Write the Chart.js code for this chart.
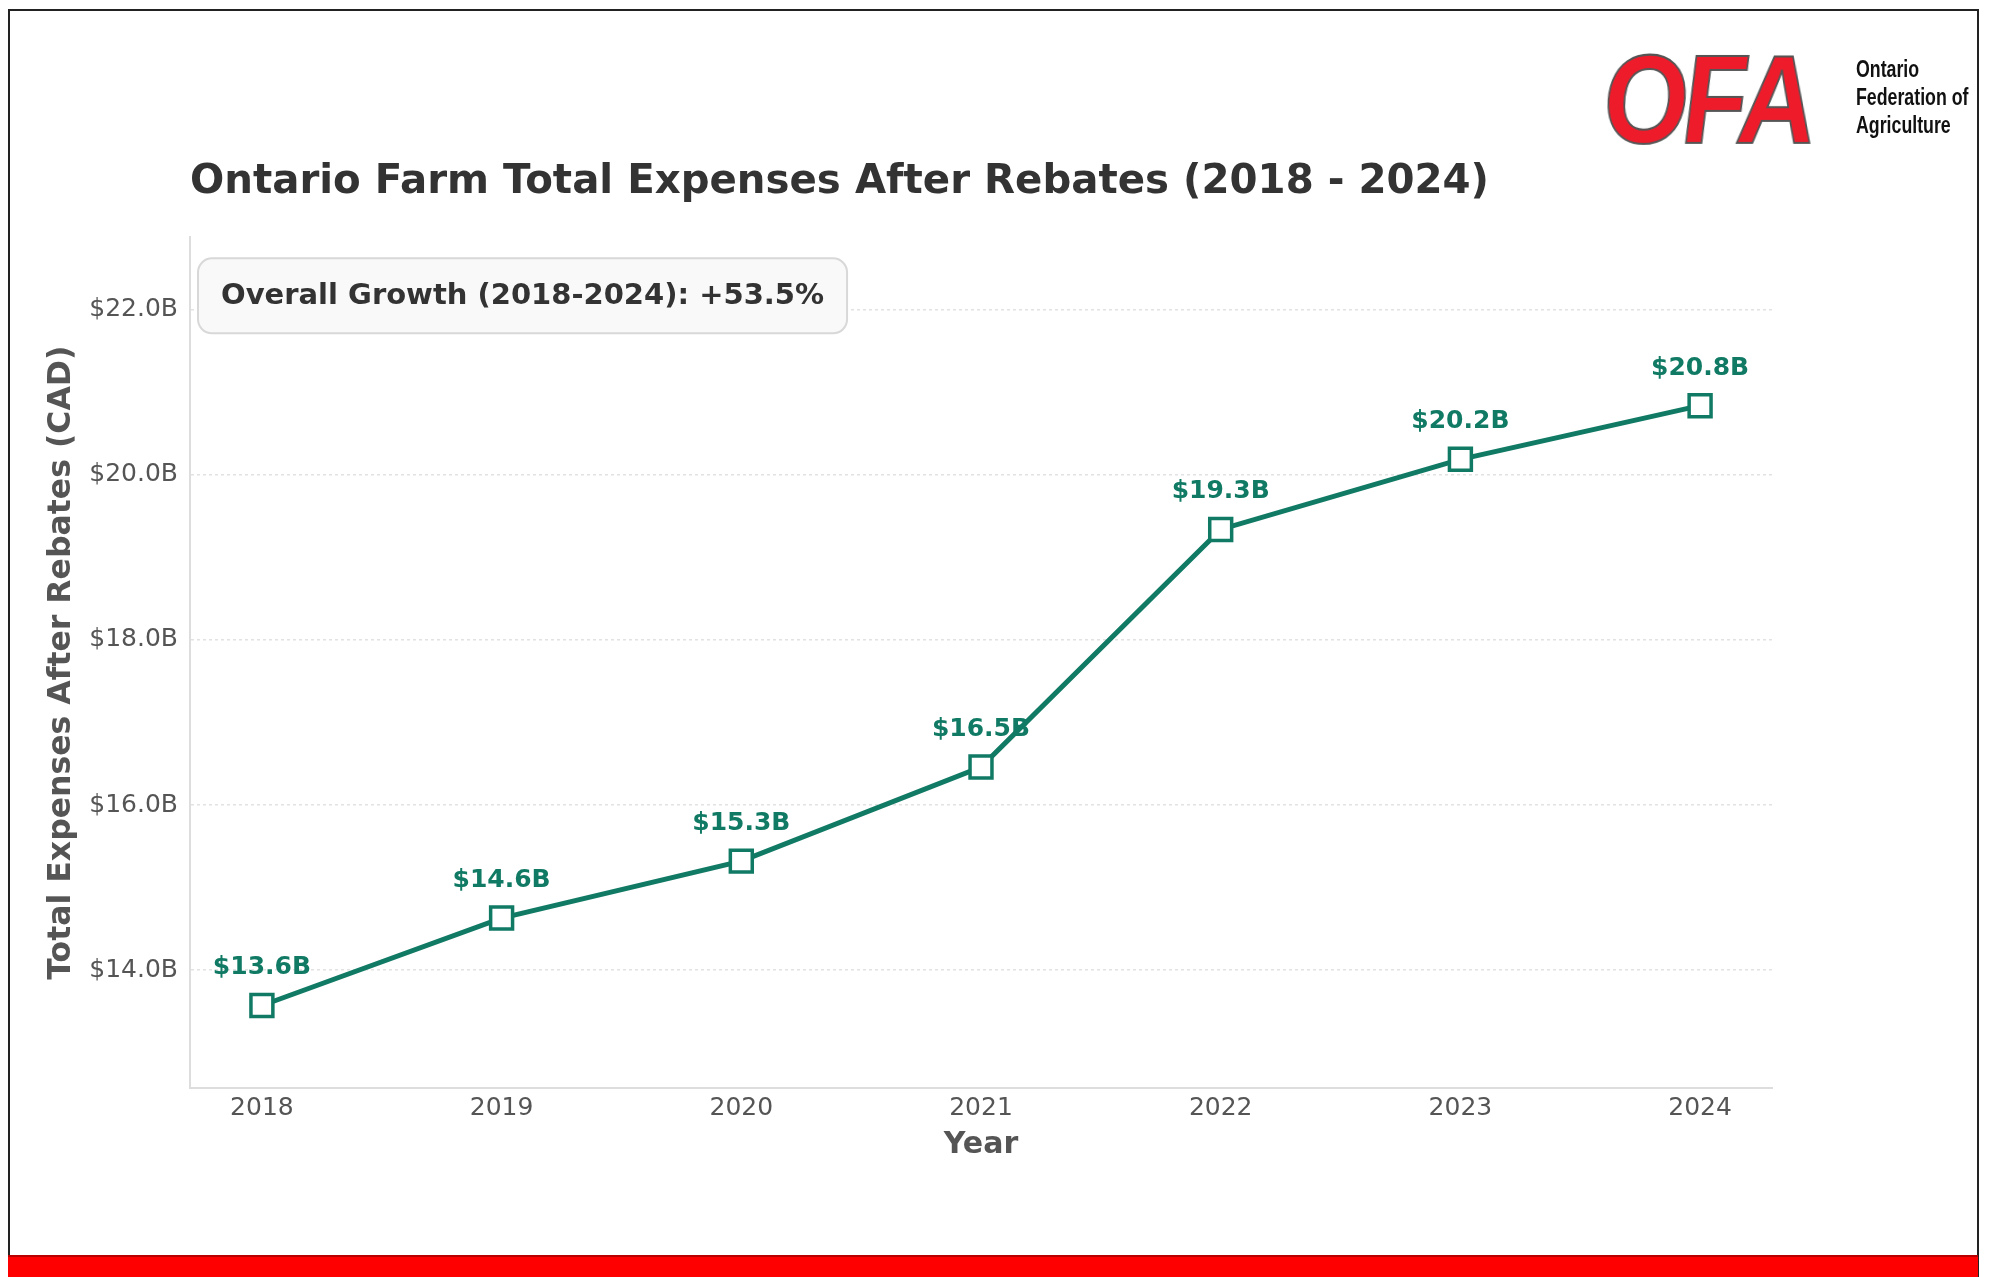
<!DOCTYPE html>
<html>
<head>
<meta charset="utf-8">
<title>Ontario Farm Total Expenses After Rebates</title>
<script src="https://cdn.jsdelivr.net/npm/chart.js@4.4.0/dist/chart.umd.min.js"></script>
<style>
html, body { margin: 0; padding: 0; background: #fff; }
#page { position: relative; width: 1993px; height: 1277px; overflow: hidden; background: #fff; }
#frame { position: absolute; left: 8px; top: 9px; width: 1971px; height: 1290px; border: 2px solid #222; box-sizing: border-box; }
#redBar { position: absolute; left: 8px; top: 1255px; width: 1970px; height: 24px; background: #ff0000; border-top: 2px solid #b80000; box-sizing: border-box; }
#chartBox { position: absolute; left: 0; top: 0; width: 1993px; height: 1277px; }
#ofa { position: absolute; left: 1600px; top: 37px; font: italic 900 126px "Liberation Sans", Arial, sans-serif; color: #ee1c2b;
       -webkit-text-stroke: 2px #555; letter-spacing: -6px; transform: scaleX(0.86) skewX(3deg); transform-origin: left top; line-height: 1; }
#ofaText { position: absolute; left: 1856px; top: 55px; font: bold 24px "Liberation Sans Narrow", "Liberation Sans", sans-serif;
           line-height: 28px; color: #111; transform: scaleX(0.74); transform-origin: left top; white-space: nowrap; }
</style>
</head>
<body>
<div id="page">
  <div id="frame"></div>
  <div id="chartBox"><canvas id="myChart"></canvas></div>
  <div id="ofa">OFA</div>
  <div id="ofaText">Ontario<br>Federation of<br>Agriculture</div>
  <div id="redBar"></div>
</div>
<script>
// values, billions CAD
const years = [2018, 2019, 2020, 2021, 2022, 2023, 2024];
const expenses = [13.57, 14.63, 15.32, 16.46, 19.34, 20.19, 20.84];
const yTicks = [14, 16, 18, 20, 22];
const chartTitle = 'Ontario Farm Total Expenses After Rebates (2018 - 2024)';
const growthNote = 'Overall Growth (2018-2024): +53.5%';

const lineGreen = '#117a65';
const fontFamily = '"DejaVu Sans", sans-serif';

const pointLabels = {
    id: 'pointLabels',
    afterDatasetsDraw(chart) {
        const ctx = chart.ctx;
        const meta = chart.getDatasetMeta(0);
        ctx.save();
        ctx.font = 'bold 25px ' + fontFamily;
        ctx.fillStyle = lineGreen;
        ctx.textAlign = 'center';
        ctx.textBaseline = 'alphabetic';
        meta.data.forEach((pt, i) => {
            ctx.fillText('$' + expenses[i].toFixed(1) + 'B', pt.x, pt.y - 31);
        });
        ctx.restore();
    }
};

const growthBox = {
    id: 'growthBox',
    afterDraw(chart) {
        const ctx = chart.ctx;
        const area = chart.chartArea;
        ctx.save();
        ctx.font = 'bold 29px ' + fontFamily;
        const w = ctx.measureText(growthNote).width + 46;
        const h = 75;
        const x = area.left + 8;
        const y = area.top + 21;
        ctx.beginPath();
        ctx.roundRect(x, y, w, h, 14);
        ctx.fillStyle = '#f9f9f9';
        ctx.fill();
        ctx.lineWidth = 2;
        ctx.strokeStyle = '#d8d8d8';
        ctx.stroke();
        ctx.fillStyle = '#333';
        ctx.textBaseline = 'middle';
        ctx.fillText(growthNote, x + 23, y + h / 2 + 1);
        ctx.restore();
    }
};

window.addEventListener('load', function() {
    const ctx = document.getElementById('myChart');
    new Chart(ctx, {
        type: 'line',
        data: {
            datasets: [{
                data: years.map((yr, i) => ({x: yr, y: expenses[i]})),
                borderColor: lineGreen,
                borderWidth: 5,
                pointStyle: 'rect',
                pointRadius: 15.5,
                pointBackgroundColor: '#ffffff',
                pointBorderColor: lineGreen,
                pointBorderWidth: 3.5,
                tension: 0,
                clip: false
            }]
        },
        options: {
            responsive: true,
            maintainAspectRatio: false,
            animation: false,
            layout: {padding: {left: 0, right: 221, top: 0, bottom: 114}},
            plugins: {
                legend: {display: false},
                tooltip: {enabled: false},
                title: {
                    display: true,
                    text: chartTitle,
                    align: 'start',
                    fullSize: false,
                    color: '#333',
                    font: {family: fontFamily, size: 40.3, weight: 'bold'},
                    padding: {top: 158, bottom: 31}
                }
            },
            scales: {
                x: {
                    type: 'linear',
                    min: 2017.7,
                    max: 2024.3,
                    afterBuildTicks: s => { s.ticks = years.map(v => ({value: v})); },
                    afterFit: s => { s.height = 75; },
                    grid: {display: false, drawTicks: false},
                    border: {display: true, color: '#dddddd', width: 2},
                    ticks: {
                        padding: 5,
                        color: '#555',
                        font: {family: fontFamily, size: 25},
                        callback: v => String(v)
                    },
                    title: {
                        display: true,
                        text: 'Year',
                        color: '#555',
                        font: {family: fontFamily, size: 30, weight: 'bold'},
                        padding: 0
                    }
                },
                y: {
                    min: 12.57,
                    max: 22.88,
                    afterBuildTicks: s => { s.ticks = yTicks.map(v => ({value: v})); },
                    afterFit: s => { s.width = 190; },
                    grid: {color: '#e2e2e2', lineWidth: 1.5, drawTicks: false},
                    border: {display: true, color: '#dddddd', width: 2, dash: [3, 3]},
                    ticks: {
                        padding: 12,
                        color: '#555',
                        font: {family: fontFamily, size: 25},
                        callback: v => '$' + v.toFixed(1) + 'B'
                    },
                    title: {
                        display: true,
                        text: 'Total Expenses After Rebates (CAD)',
                        color: '#555',
                        font: {family: fontFamily, size: 31.5, weight: 'bold'},
                        padding: {top: 43, bottom: 0}
                    }
                }
            }
        },
        plugins: [pointLabels, growthBox]
    });
});
</script>
</body>
</html>
